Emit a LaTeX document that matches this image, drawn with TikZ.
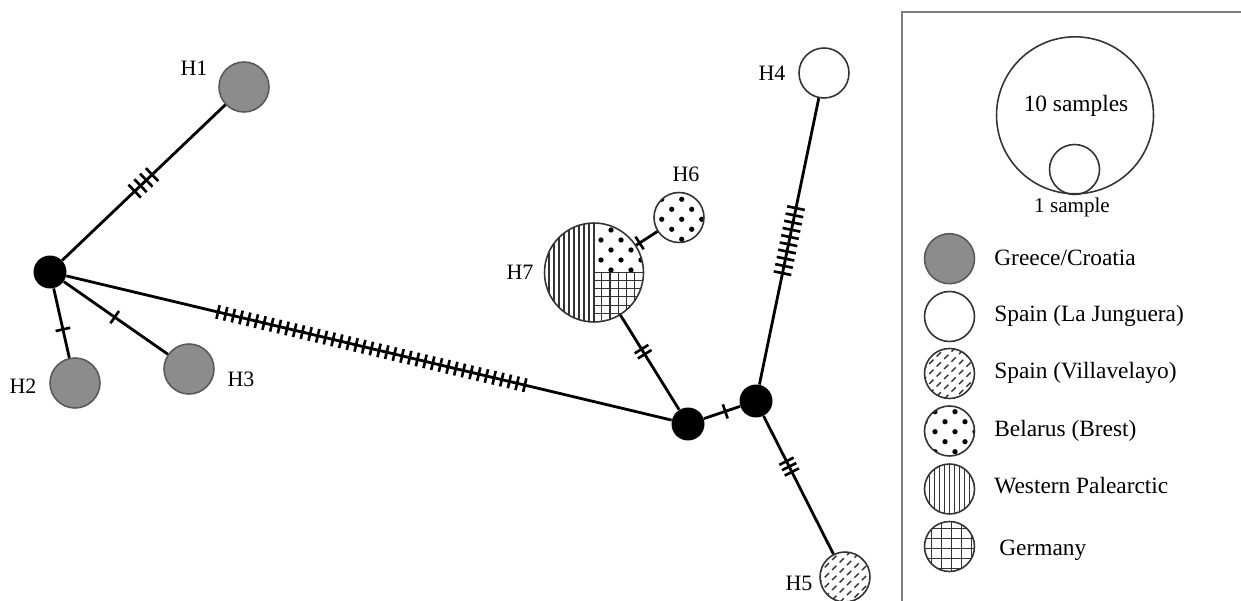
\documentclass[tikz,border=0pt]{standalone}
\usepackage{fontspec}
\setmainfont{Liberation Serif}
\usetikzlibrary{decorations.markings}
\definecolor{greecegray}{RGB}{140,140,140}

% fill patterns, drawn round the origin (px units)
\newcommand{\hatchvert}{\foreach \k in {-12,...,12} \draw[line width=0.65pt] (5*\k,-60) -- (5*\k,60);}
\newcommand{\hatchgrid}[2]{\foreach \k in {-8,...,8} {\draw[line width=0.65pt] ({#1*\k+(#2)},-60) -- ({#1*\k+(#2)},60); \draw[line width=0.65pt] (-60,{#1*\k+(#2)}) -- (60,{#1*\k+(#2)});}}
\newcommand{\hatchdash}{\foreach \c in {-100,-90,...,100} \draw[line width=0.8pt, dash pattern=on 0.12cm off 0.09cm] (-50,50+\c) -- (50,-50+\c);}
\newcommand{\hatchdots}[2]{\foreach \i in {-3,...,3} \foreach \j in {-3,...,3} {\fill ({20*\i+(#1)},{20*\j+(#2)}) circle [radius=1.5pt]; \fill ({20*\i+10+(#1)},{20*\j+10+(#2)}) circle [radius=1.5pt];}}

\tikzset{
  edge/.style={line width=1.6pt},
  junction/.style={circle, fill=black, inner sep=0pt, minimum size=0.66cm},
  hap/.style={circle, draw=black!80, line width=0.9pt, inner sep=0pt, minimum size=1cm},
  greece/.style={hap, draw=black!65, fill=greecegray},
  hlabel/.style={inner sep=0pt, font=\fontsize{12.5}{14}\selectfont},
  legendtext/.style={anchor=base west, inner sep=0pt},
  vertfill/.style={path picture={\begin{scope}[shift={(path picture bounding box.center)}]\hatchvert\end{scope}}},
  gridfill/.style 2 args={path picture={\begin{scope}[shift={(path picture bounding box.center)}]\hatchgrid{#1}{#2}\end{scope}}},
  dashfill/.style={path picture={\begin{scope}[shift={(path picture bounding box.center)}]\hatchdash\end{scope}}},
  dotsfill/.style 2 args={path picture={\begin{scope}[shift={(path picture bounding box.center)}]\hatchdots{#1}{#2}\end{scope}}},
  mixedfill/.style={path picture={\begin{scope}[shift={(path picture bounding box.center)}]
      \begin{scope}\clip (-60,-60) rectangle (0,60); \hatchvert\end{scope}
      \begin{scope}\clip (0,-60) rectangle (60,0); \hatchdots{-3}{-2.5}\end{scope}
      \begin{scope}\clip (0,0) rectangle (60,60); \hatchgrid{8.3}{7.7}\end{scope}
      \draw[line width=1.1pt] (0,-60) -- (0,60) (0,0) -- (60,0);
    \end{scope}}},
  muts/.style n args={4}{postaction={decorate, decoration={markings,
      mark=between positions #1 and #2 step #3 with {\draw[line width=1.5pt] (0,-#4) -- (0,#4);}}}},
  mut/.style={postaction={decorate, decoration={markings,
      mark=at position #1 with {\draw[line width=1.5pt] (0,-0.15cm) -- (0,0.15cm);}}}},
}

\begin{document}
\begin{tikzpicture}[x=0.02cm, y=-0.02cm, font=\fontsize{13.3}{16}\selectfont]
    \useasboundingbox (0,0) rectangle (1241,601);

    % network
    \node[junction] (j0) at (50,272) {};
    \node[junction] (j1) at (688,424) {};
    \node[junction] (j2) at (756,401) {};
    \node[greece] (h1) at (244,87) {};
    \node[greece] (h2) at (75,383) {};
    \node[greece] (h3) at (189,369) {};
    \node[hap] (h4) at (824,73) {};
    \node[hap, dashfill] (h5) at (845,577) {};
    \node[hap, dotsfill={2.7}{1.8}] (h6) at (679,217.5) {};
    \node[hap, mixedfill, minimum size=1.98cm] (h7) at (594,272.5) {};

    \draw[edge, muts={0.446}{0.556}{0.16cm}{0.18cm}] (j0) -- (h1);
    \draw[edge, mut=0.59] (j0) -- (h2);
    \draw[edge, mut=0.49] (j0) -- (h3);
    \draw[edge, muts={0.2506}{0.7585}{0.1577cm}{0.14cm}] (j0) -- (j1);
    \draw[edge, muts={0.588}{0.645}{0.12cm}{0.16cm}] (j1) -- (h7);
    \draw[edge, mut=0.16] (h7) -- (h6);
    \draw[edge, mut=0.59] (j1) -- (j2);
    \draw[edge, muts={0.389}{0.618}{0.1476cm}{0.18cm}] (j2) -- (h4);
    \draw[edge, muts={0.328}{0.41}{0.12cm}{0.16cm}] (j2) -- (h5);

    \node[hlabel] (l1) at (194,68) {H1};
    \node[hlabel] (l2) at (23,386) {H2};
    \node[hlabel] (l3) at (241,379) {H3};
    \node[hlabel] (l4) at (772,73) {H4};
    \node[hlabel] (l5) at (799,583) {H5};
    \node[hlabel] (l6) at (686,174) {H6};
    \node[hlabel] (l7) at (520,272) {H7};

    % legend
    \draw[line width=1.2pt, black!50] (902,601) -- (902,12) -- (1241,12);
    \node[hap, minimum size=3.14cm] (big) at (1075,115.3) {};
    \node[hap] (small) at (1074.5,169.5) {};
    \node[anchor=base, inner sep=0pt] (t10) at (1076,111.7) {10 samples};
    \node[anchor=base, inner sep=0pt, font=\fontsize{12}{14}\selectfont] (t1) at (1072,212.3) {1 sample};

    \node[greece] (k1) at (949.5,258.7) {};
    \node[hap] (k2) at (949.5,316.5) {};
    \node[hap, dashfill] (k3) at (949.5,373.5) {};
    \node[hap, dotsfill={5.5}{0.7}] (k4) at (949.5,431) {};
    \node[hap, vertfill] (k5) at (949.5,489) {};
    \node[hap, gridfill={10}{2}] (k6) at (949.5,546.5) {};

    \node[legendtext] (g1) at (994,265.5) {Greece/Croatia};
    \node[legendtext] (g2) at (994,321) {Spain (La Junguera)};
    \node[legendtext] (g3) at (994,378.5) {Spain (Villavelayo)};
    \node[legendtext] (g4) at (994,436.5) {Belarus (Brest)};
    \node[legendtext] (g5) at (994,493.5) {Western Palearctic};
    \node[legendtext] (g6) at (999,555) {Germany};

\end{tikzpicture}
\end{document}
